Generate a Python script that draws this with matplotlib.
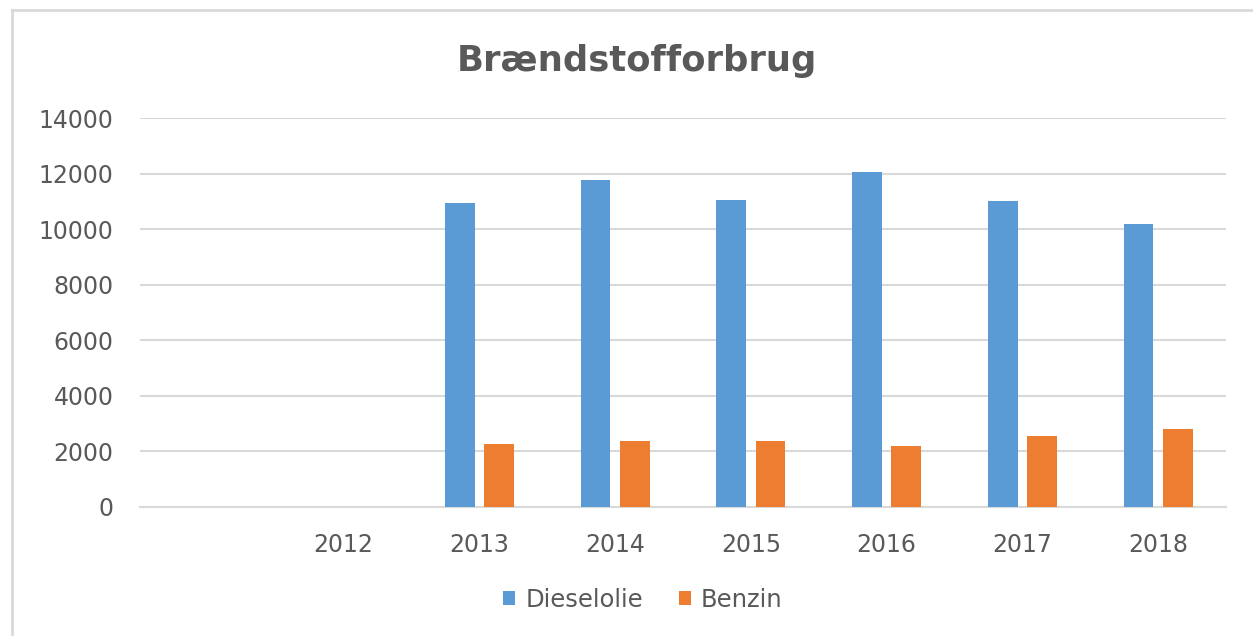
import matplotlib.pyplot as plt
import numpy as np
from matplotlib.lines import Line2D

# data
years = ["", "2012", "2013", "2014", "2015", "2016", "2017", "2018"]
dieselolie = [0, 0, 10950, 11760, 11050, 12060, 11000, 10200]
benzin = [0, 0, 2250, 2360, 2360, 2200, 2550, 2800]

BLUE = "#5B9BD5"
ORANGE = "#ED7D31"
GRID = "#D9D9D9"
TEXT = "#595959"

W, H = 1253, 636
fig = plt.figure(figsize=(W / 100, H / 100), dpi=100)
plt.rcParams["font.family"] = ["DejaVu Sans"]

# axes placed in pixel terms: x 140..1226, y 118..507
ax = fig.add_axes([140 / W, 1 - 507 / H, (1226 - 140) / W, (507 - 118) / H])

x = np.arange(len(years))
bw = 0.22
ax.bar(x - 0.145, dieselolie, bw, color=BLUE, label="Dieselolie", zorder=3)
ax.bar(x + 0.145, benzin, bw, color=ORANGE, label="Benzin", zorder=3)

ax.set_xlim(-0.5, len(years) - 0.5)
ax.set_ylim(0, 14000)
ax.set_yticks(range(0, 14001, 2000))
ax.set_xticks(x)
ax.set_xticklabels(years)

ax.grid(axis="y", color=GRID, linewidth=1.5, zorder=0)
for s in ["top", "right", "left"]:
    ax.spines[s].set_visible(False)
ax.spines["bottom"].set_color(GRID)
ax.spines["bottom"].set_linewidth(1.5)
ax.tick_params(axis="both", length=0, labelsize=17, colors=TEXT)
ax.tick_params(axis="y", pad=19)
ax.tick_params(axis="x", pad=19)

fig.text(637 / W, 1 - 61 / H, "Brændstofforbrug", ha="center", va="center",
         fontsize=25.5, fontweight="bold", color=TEXT)

fig.legend(loc="center", bbox_to_anchor=(643 / W, 1 - 600 / H), ncol=2,
           frameon=False, fontsize=17.5, handlelength=0.5, handleheight=0.5,
           handletextpad=0.4, columnspacing=1.5, labelcolor=TEXT)

# light chart-area border (left and top edges visible in the reference)
fig.add_artist(Line2D([12 / W, 12 / W], [0, 1 - 10 / H], transform=fig.transFigure,
                      color=GRID, linewidth=2))
fig.add_artist(Line2D([12 / W, 1], [1 - 10 / H, 1 - 10 / H], transform=fig.transFigure,
                      color=GRID, linewidth=2))

fig.savefig("out.png", dpi=100, facecolor="white")
plt.close(fig)
